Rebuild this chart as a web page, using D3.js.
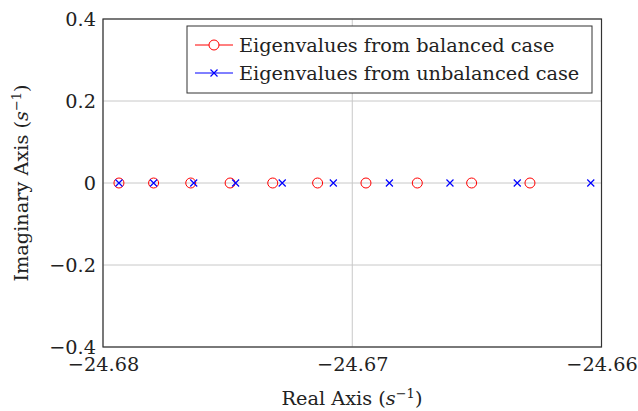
<!DOCTYPE html>
<html>
<head>
<meta charset="utf-8">
<script src="https://cdn.jsdelivr.net/npm/d3@7"></script>
<style>
  html, body { margin: 0; padding: 0; background: #fff; }
  text { font-family: "DejaVu Serif", serif; fill: #222; }
</style>
</head>
<body>
<svg id="chart" width="638" height="411"></svg>
<script>
// ---- data ----
const balancedReal = [-24.67936, -24.67797, -24.67648, -24.67490, -24.67319, -24.67139, -24.66945, -24.66739, -24.66521, -24.66287];
const balancedImag = [0, 0, 0, 0, 0, 0, 0, 0, 0, 0];
const unbalancedReal = [-24.67936, -24.67797, -24.67636, -24.67468, -24.67281, -24.67076, -24.66851, -24.66608, -24.66338, -24.66043];
const unbalancedImag = [0, 0, 0, 0, 0, 0, 0, 0, 0, 0];
const xTicks = [-24.68, -24.67, -24.66];
const xTickLabels = ["\u221224.68", "\u221224.67", "\u221224.66"];
const yTicks = [-0.4, -0.2, 0, 0.2, 0.4];
const yTickLabels = ["\u22120.4", "\u22120.2", "0", "0.2", "0.4"];
const seriesNames = ["Eigenvalues from balanced case", "Eigenvalues from unbalanced case"];

// ---- layout ----
const FONT = '"DejaVu Serif", serif';
const FS = "19.3px";
const svg = d3.select("#chart");
const L = 103, R = 601.5, T = 19, B = 347;
const x = d3.scaleLinear().domain([-24.68, -24.66]).range([L, R]);
const y = d3.scaleLinear().domain([-0.4, 0.4]).range([B, T]);

// grid
const g = svg.append("g");
g.selectAll("line.gx").data(xTicks).enter().append("line")
  .attr("x1", d => x(d)).attr("x2", d => x(d)).attr("y1", T).attr("y2", B)
  .attr("stroke", "#c8c8c8").attr("stroke-width", 1);
g.selectAll("line.gy").data(yTicks).enter().append("line")
  .attr("x1", L).attr("x2", R).attr("y1", d => y(d)).attr("y2", d => y(d))
  .attr("stroke", "#c8c8c8").attr("stroke-width", 1);

// axes via d3
const xAxis = d3.axisBottom(x).tickValues(xTicks).tickFormat((d, i) => xTickLabels[i]).tickSize(0).tickPadding(8);
const yAxis = d3.axisLeft(y).tickValues(yTicks).tickFormat((d, i) => yTickLabels[i]).tickSize(0).tickPadding(7);
const gx = svg.append("g").attr("transform", `translate(0,${B})`).call(xAxis);
const gy = svg.append("g").attr("transform", `translate(${L},0)`).call(yAxis);
[gx, gy].forEach(a => {
  a.attr("font-family", FONT).attr("font-size", FS);
  a.select(".domain").remove();
  a.selectAll("text").attr("fill", "#222");
});
gx.selectAll("text").attr("dy", "0.85em");
gy.selectAll("text").attr("dy", "0.35em");

// border
svg.append("rect").attr("x", L).attr("y", T).attr("width", R - L).attr("height", B - T)
  .attr("fill", "none").attr("stroke", "#333").attr("stroke-width", 1.2);

// marks
const circ = svg.append("g");
circ.selectAll("circle").data(balancedReal).enter().append("circle")
  .attr("cx", d => x(d)).attr("cy", (d, i) => y(balancedImag[i])).attr("r", 5)
  .attr("fill", "none").attr("stroke", "#ff0000").attr("stroke-width", 1);
const cross = svg.append("g");
const s = 3.5;
unbalancedReal.forEach((d, i) => {
  const cx = x(d), cy = y(unbalancedImag[i]);
  cross.append("path").attr("d", `M${cx - s},${cy - s}L${cx + s},${cy + s}M${cx - s},${cy + s}L${cx + s},${cy - s}`)
    .attr("stroke", "#0000ff").attr("stroke-width", 1.2).attr("fill", "none");
});

// legend
const lg = svg.append("g");
lg.append("rect").attr("x", 187).attr("y", 26).attr("width", 405).attr("height", 67)
  .attr("fill", "#fff").attr("stroke", "#333").attr("stroke-width", 1);
const rows = [45, 73];
lg.append("line").attr("x1", 195).attr("x2", 233).attr("y1", rows[0]).attr("y2", rows[0]).attr("stroke", "#ff0000").attr("stroke-width", 1);
lg.append("circle").attr("cx", 214).attr("cy", rows[0]).attr("r", 5).attr("fill", "#fff").attr("stroke", "#ff0000");
lg.append("line").attr("x1", 195).attr("x2", 233).attr("y1", rows[1]).attr("y2", rows[1]).attr("stroke", "#0000ff").attr("stroke-width", 1);
lg.append("path").attr("d", `M${214 - s},${rows[1] - s}L${214 + s},${rows[1] + s}M${214 - s},${rows[1] + s}L${214 + s},${rows[1] - s}`)
  .attr("stroke", "#0000ff").attr("stroke-width", 1.2);
lg.selectAll("text").data(seriesNames).enter().append("text")
  .attr("x", 239).attr("y", (d, i) => rows[i]).attr("dy", "0.35em")
  .style("font-size", FS).text(d => d);

// axis labels
function labelWithUnit(sel, main) {
  sel.append("tspan").text(main + " (");
  sel.append("tspan").style("font-style", "italic").text("s");
  sel.append("tspan").attr("dy", -7).style("font-size", "13px").text("\u22121");
  sel.append("tspan").attr("dy", 7).text(")");
}
const xl = svg.append("text").attr("x", 352).attr("y", 405).attr("text-anchor", "middle").style("font-size", FS);
labelWithUnit(xl, "Real Axis");
const yl = svg.append("text").attr("transform", "translate(28,183) rotate(-90)").attr("text-anchor", "middle").style("font-size", FS);
labelWithUnit(yl, "Imaginary Axis");
</script>
</body>
</html>
